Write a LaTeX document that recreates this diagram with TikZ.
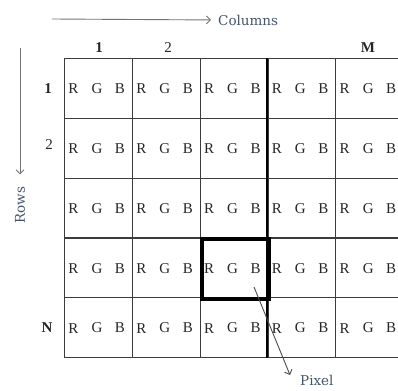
\documentclass[tikz,border=0pt]{standalone}
\usepackage{fontspec}
\setmainfont{Liberation Serif}
\newfontfamily\labelfont{DejaVu Serif}
\usetikzlibrary{arrows.meta}
\definecolor{axisblue}{HTML}{44546A}
\definecolor{gridgray}{HTML}{3C3C3C}

\begin{document}
\begin{tikzpicture}[x=1pt,y=-1pt,
  cell/.style={draw=gridgray, line width=1.2pt, minimum width=67.8pt,
    minimum height=59.8pt, inner sep=0pt, anchor=north west},
  chan/.style={font=\fontsize{15}{16}\selectfont, text=black!85, inner sep=0pt},
  idx/.style={font=\fontsize{15}{16}\selectfont, text=black!85, inner sep=0pt},
  idxbold/.style={idx, font=\fontsize{15}{16}\selectfont\bfseries},
  axislabel/.style={font=\labelfont\fontsize{13.5}{15}\selectfont, text=axisblue, inner sep=0pt},
  axisarrow/.style={draw=black!55, line width=0.9pt, -{Straight Barb[length=4pt,width=8pt]}},
  pixelframe/.style={draw=black, line width=4pt, minimum width=67.8pt,
    minimum height=59.8pt, inner sep=0pt, anchor=north west},
]
\useasboundingbox (0,0) rectangle (398,390);
\clip (0,0) rectangle (398,390);

% grid of pixels, each holding its three colour channels
\foreach \r in {1,...,5}{
  \foreach \c in {1,...,5}{
    \pgfmathsetmacro{\xo}{64+67.8*(\c-1)}
    \pgfmathsetmacro{\yo}{58+59.8*(\r-1)}
    \pgfmathsetmacro{\ym}{\yo+30.9}
    \node[cell] (c\r\c) at (\xo,\yo) {};
    \node[chan] (r\r\c) at (\xo+9.5,\ym) {R};
    \node[chan] (g\r\c) at (\xo+33,\ym) {G};
    \node[chan] (b\r\c) at (\xo+56,\ym) {B};
  }
}

% heavier divider between the third and fourth columns
\draw[black, line width=2pt] (c14.north west) -- (c54.south west);

% highlighted pixel
\node[pixelframe] (pixelbox) at (c43.north west) {};

% column indices
\node[idxbold] (col1) at (99,48) {1};
\node[idx] (col2) at (168,48) {2};
\node[idxbold] (colM) at (368,48) {M};

% row indices
\node[idxbold] (row1) at (48,89) {1};
\node[idx] (row2) at (49,145) {2};
\node[idxbold] (rowN) at (47,328) {N};

% column direction
\coordinate (colstart) at (52,19);
\node[axislabel, anchor=west] (colsl) at (218,20) {Columns};
\draw[axisarrow] (colstart) -- (colsl.west) [shorten >=7pt];

% row direction
\coordinate (rowstart) at (20,48);
\node[axislabel, rotate=90] (rowsl) at (20,205) {Rows};
\draw[axisarrow] (rowstart) -- (rowsl.east) [shorten >=12pt];

% pointer to a single pixel
\coordinate (pixstart) at (254,287);
\coordinate (pixtip) at (290,375);
\node[axislabel, anchor=south west] (pixl) at (300,386) {Pixel};
\draw[axisarrow, draw=black!70] (pixstart) -- (pixtip);
\end{tikzpicture}
\end{document}
